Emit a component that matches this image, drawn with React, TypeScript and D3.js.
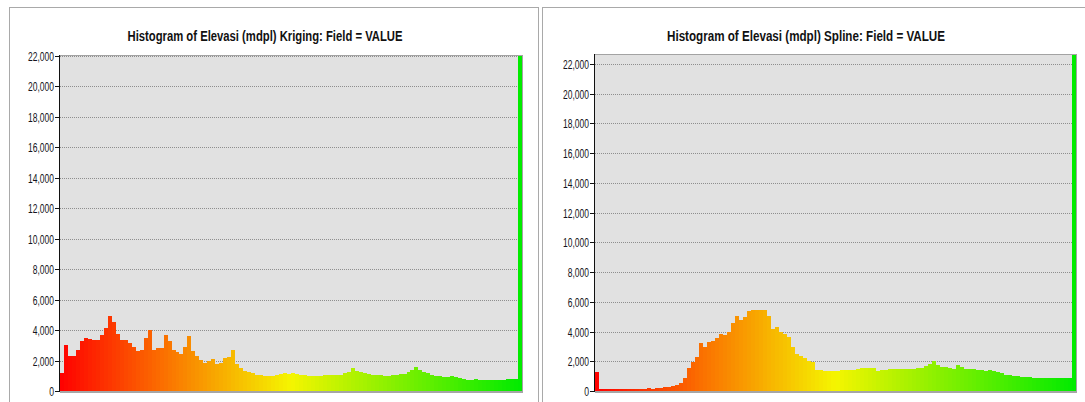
import React from 'react';
import * as d3 from 'd3';

const krigingTitle = 'Histogram of Elevasi (mdpl) Kriging: Field = VALUE';
const splineTitle = 'Histogram of Elevasi (mdpl) Spline: Field = VALUE';

const yTicks = [0, 2000, 4000, 6000, 8000, 10000, 12000, 14000, 16000, 18000, 20000, 22000];

// Kriging histogram bin counts (116 bins, last bin is the large green spike)
const krigingCounts = [
  1200, 3000, 2300, 2310, 2700, 3300, 3500, 3400, 3360, 3320,
  3650, 4120, 4900, 4550, 3750, 3350, 3360, 3150, 2920, 2650,
  2700, 3500, 4000, 2720, 2850, 2820, 3700, 3300, 2700, 2580,
  2420, 2900, 3620, 2650, 2320, 2050, 1830, 1990, 2080, 1800,
  1870, 2150, 2260, 2700, 1800, 1480, 1340, 1260, 1150, 1070,
  1020, 960, 960, 980, 1020, 1090, 1200, 1130, 1170, 1110,
  1080, 1070, 990, 960, 960, 1010, 1040, 1050, 1050, 1050,
  1080, 1150, 1280, 1500, 1300, 1230, 1200, 1140, 1060, 1020,
  1020, 980, 990, 1020, 1050, 1090, 1130, 1230, 1370, 1580,
  1400, 1260, 1150, 1070, 990, 980, 930, 950, 980, 950,
  870, 780, 740, 740, 790, 740, 740, 740, 740, 740,
  740, 740, 760, 810, 810, 30000,
];

// Spline histogram bin counts (120 bins, last bin is the large green spike)
const splineCounts = [
  1300, 110, 110, 110, 110, 110, 110, 110, 110, 110,
  110, 110, 150, 200, 150, 200, 190, 280, 300, 335,
  410, 530, 880, 1550, 1920, 2300, 3250, 2950, 3280, 3350,
  3540, 3850, 3760, 4000, 4600, 5050, 4800, 4950, 5380, 5450,
  5420, 5420, 5450, 5050, 4180, 4280, 3950, 3850, 3600, 2950,
  2500, 2340, 2210, 2050, 1950, 1430, 1380, 1360, 1360, 1360,
  1360, 1390, 1410, 1410, 1440, 1480, 1520, 1520, 1520, 1520,
  1360, 1380, 1430, 1500, 1480, 1480, 1480, 1480, 1480, 1500,
  1520, 1570, 1650, 1800, 2050, 1740, 1620, 1590, 1520, 1510,
  1780, 1620, 1510, 1480, 1460, 1420, 1410, 1370, 1390, 1340,
  1250, 1190, 1100, 1050, 1010, 1010, 960, 920, 920, 900,
  870, 900, 880, 870, 870, 870, 870, 870, 870, 30000,
];

const fmt = d3.format(',');
const labelFont = "'Liberation Sans Narrow', 'Arial Narrow', 'Liberation Sans', Arial, sans-serif";

type PanelProps = {
  id: string;
  title: string;
  counts: number[];
  box: { x: number; y: number; w: number; h: number };
  plot: { x0: number; x1: number; top: number; bottom: number; yMaxPx: number };
  titleX: number;
  titleW: number;
};

function Panel({ id, title, counts, box, plot, titleX, titleW }: PanelProps) {
  const n = counts.length;
  const x = d3.scaleLinear().domain([0, n]).range([plot.x0, plot.x1]);
  const y = d3.scaleLinear().domain([0, 22000]).range([plot.bottom, plot.yMaxPx]);
  const color = (i: number) => {
    const t = (i + 0.5) / n;
    return d3.hsl(120 * t, 1, 0.5 - 0.04 * t).toString();
  };
  const labelW = (s: string) => s.replace(/,/g, '').length * 4.8 + (s.includes(',') ? 2 : 0);
  return (
    <g>
      <rect x={box.x + 0.5} y={box.y + 0.5} width={box.w} height={box.h} fill="#fff" stroke="#a9a9a9" />
      <text
        x={titleX}
        y={41}
        textAnchor="middle"
        fontFamily={labelFont}
        fontWeight="bold"
        fontSize={14}
        fill="#111"
        textLength={titleW}
        lengthAdjust="spacingAndGlyphs"
      >
        {title}
      </text>
      <defs>
        <clipPath id={`clip-${id}`}>
          <rect x={plot.x0} y={plot.top} width={plot.x1 - plot.x0} height={plot.bottom - plot.top} />
        </clipPath>
      </defs>
      <rect x={plot.x0} y={plot.top} width={plot.x1 - plot.x0} height={plot.bottom - plot.top} fill="#e1e1e1" />
      {yTicks.filter((t) => t > 0).map((t) => {
        const yy = Math.round(y(t)) + 0.5;
        return (
          <line key={t} x1={plot.x0} x2={plot.x1} y1={yy} y2={yy} stroke="#8e8e8e" strokeDasharray="1,1" />
        );
      })}
      <g clipPath={`url(#clip-${id})`} shapeRendering="crispEdges">
        {counts.map((c, i) => {
          const xa = Math.round(x(i));
          const xb = Math.round(x(i + 1));
          const yy = Math.round(y(c));
          return (
            <rect key={i} x={xa} y={yy} width={xb - xa} height={plot.bottom - yy} fill={color(i)} />
          );
        })}
      </g>
      <line x1={plot.x0} x2={plot.x1 + 1} y1={plot.top + 0.5} y2={plot.top + 0.5} stroke="#a3a3a3" />
      <line x1={plot.x1 + 0.5} x2={plot.x1 + 0.5} y1={plot.top} y2={plot.bottom} stroke="#a3a3a3" />
      <line x1={plot.x0} x2={plot.x1 + 1} y1={plot.bottom + 1} y2={plot.bottom + 1} stroke="#a6a6a6" strokeWidth={2} />
      <line x1={plot.x0 - 0.5} x2={plot.x0 - 0.5} y1={plot.top} y2={plot.bottom + 1} stroke="#111" />
      {yTicks.map((t) => {
        const yy = Math.round(y(t)) + 0.5;
        const s = fmt(t);
        return (
          <g key={t}>
            <line x1={plot.x0 - 5} x2={plot.x0} y1={yy} y2={yy} stroke="#111" />
            <text
              x={plot.x0 - 6}
              y={yy}
              dy="0.36em"
              textAnchor="end"
              fontFamily={labelFont}
              fontSize={12.5}
              fill="#141420"
              textLength={labelW(s)}
              lengthAdjust="spacingAndGlyphs"
            >
              {s}
            </text>
          </g>
        );
      })}
    </g>
  );
}

export default function App() {
  return (
    <svg
      width={1085}
      height={402}
      style={{ position: 'absolute', left: 0, top: 0, display: 'block', background: '#fff' }}
    >
      <Panel
        id="kriging"
        title={krigingTitle}
        counts={krigingCounts}
        box={{ x: 9, y: 7, w: 529, h: 420 }}
        plot={{ x0: 60, x1: 522, top: 55, bottom: 391, yMaxPx: 56 }}
        titleX={265}
        titleW={275}
      />
      <Panel
        id="spline"
        title={splineTitle}
        counts={splineCounts}
        box={{ x: 542, y: 7, w: 560, h: 420 }}
        plot={{ x0: 595, x1: 1076, top: 54, bottom: 391, yMaxPx: 64 }}
        titleX={806}
        titleW={278}
      />
    </svg>
  );
}
